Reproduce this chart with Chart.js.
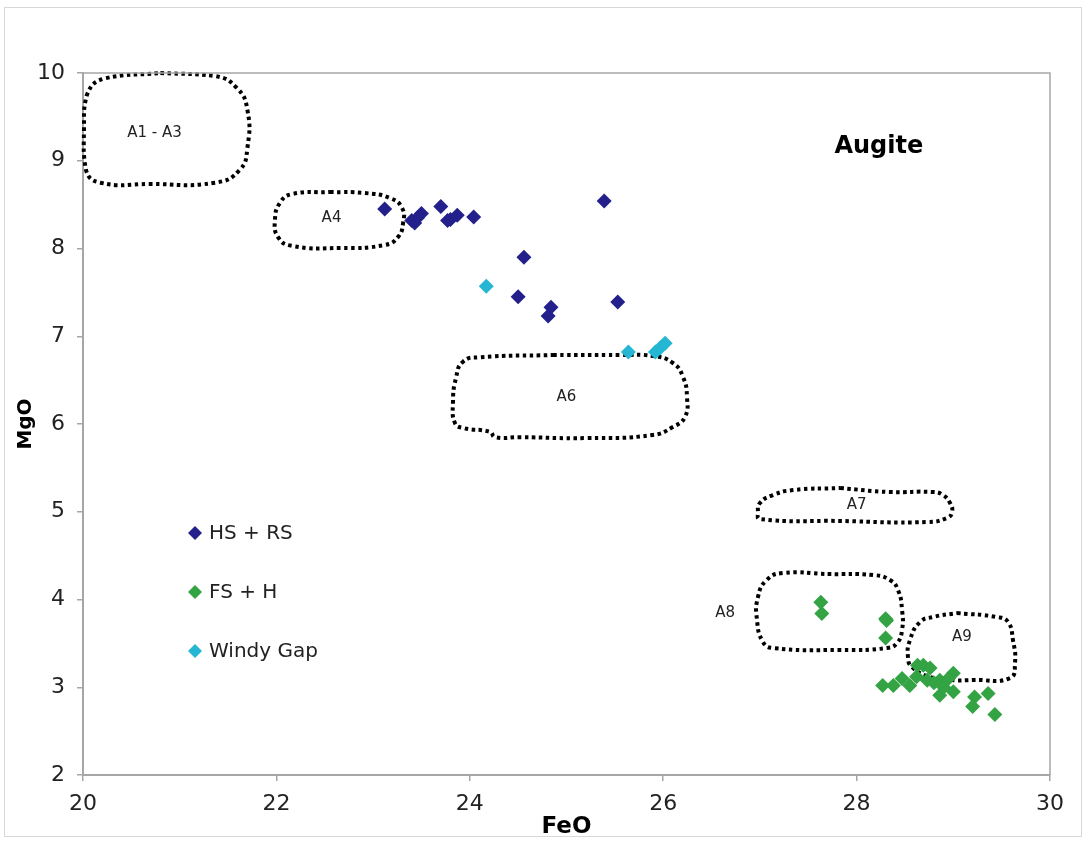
<!DOCTYPE html>
<html>
<head>
<meta charset="utf-8">
<script src="https://cdn.jsdelivr.net/npm/chart.js@4/dist/chart.umd.min.js"></script>
<style>
  html, body { margin: 0; padding: 0; background: #fff; }
  #wrap { position: relative; width: 1088px; height: 841px; }
  #frame { position: absolute; left: 4px; top: 7px; width: 1078px; height: 830px; border: 1px solid #d8d8d8; box-sizing: border-box; pointer-events: none; }
  canvas { position: absolute; left: 0; top: 0; }
</style>
</head>
<body>
<div id="wrap">
  <canvas id="c" width="1088" height="841"></canvas>
  <div id="frame"></div>
</div>
<script>
// ---- Data (FeO, MgO) ----
const seriesNames = ['HS + RS', 'FS + H', 'Windy Gap'];

const hsRsFeO = [23.12, 23.43, 23.46, 23.50, 23.40, 23.70, 23.77, 23.87, 23.80, 24.04, 25.39, 24.56, 24.50, 24.84, 24.81, 25.53];
const hsRsMgO = [8.45, 8.29, 8.35, 8.40, 8.32, 8.48, 8.32, 8.38, 8.33, 8.36, 8.54, 7.90, 7.45, 7.33, 7.23, 7.39];

const fsHFeO = [27.63, 27.64, 28.30, 28.31, 28.30, 28.27, 28.38, 28.47, 28.55, 28.62, 28.63, 28.69, 28.76, 28.73, 28.86, 29.00, 28.86, 29.00, 28.90, 29.22, 29.36, 29.20, 29.43, 28.80, 28.95];
const fsHMgO = [3.97, 3.84, 3.78, 3.76, 3.56, 3.02, 3.02, 3.10, 3.02, 3.12, 3.25, 3.25, 3.22, 3.08, 3.08, 3.16, 2.91, 2.95, 3.00, 2.89, 2.93, 2.78, 2.69, 3.05, 3.10];

const windyFeO = [24.17, 25.64, 25.92, 25.97, 26.02];
const windyMgO = [7.57, 6.82, 6.82, 6.87, 6.92];

// ---- Field outlines (FeO, MgO vertices) ----
const regionA1A3FeO = [20.80, 21.365, 21.59, 21.70, 21.70, 21.62, 21.365, 20.69, 20.18, 20.03, 20.01, 20.04, 20.23, 20.80];
const regionA1A3MgO = [10.00, 9.966, 9.83, 9.58, 9.145, 8.895, 8.75, 8.735, 8.75, 8.895, 9.35, 9.75, 9.94, 10.00];

const regionA4FeO = [22.554, 22.916, 23.175, 23.30, 23.31, 23.257, 23.12, 22.66, 22.16, 22.017, 21.985, 22.037, 22.16, 22.554];
const regionA4MgO = [8.644, 8.632, 8.575, 8.46, 8.29, 8.13, 8.04, 8.006, 8.03, 8.13, 8.325, 8.52, 8.62, 8.644];

const regionA6FeO = [24.86, 25.553, 25.895, 26.10, 26.205, 26.246, 26.225, 26.10, 25.895, 25.21, 24.52, 24.26, 24.21, 23.93, 23.847, 23.826, 23.857, 23.93, 24.105, 24.86];
const regionA6MgO = [6.786, 6.786, 6.775, 6.695, 6.536, 6.308, 6.08, 5.966, 5.875, 5.84, 5.85, 5.85, 5.91, 5.955, 6.01, 6.24, 6.524, 6.71, 6.76, 6.786];

const regionA7FeO = [27.83, 28.345, 28.79, 28.893, 28.966, 28.987, 28.935, 28.728, 27.83, 27.0, 26.98, 27.0, 27.135, 27.342, 27.83];
const regionA7MgO = [5.27, 5.225, 5.225, 5.19, 5.10, 4.997, 4.93, 4.883, 4.895, 4.917, 4.997, 5.10, 5.19, 5.247, 5.27];

const regionA8FeO = [27.70, 28.17, 28.345, 28.428, 28.47, 28.47, 28.418, 28.314, 27.828, 27.135, 27.032, 26.97, 26.98, 27.07, 27.239, 27.70];
const regionA8MgO = [4.29, 4.279, 4.222, 4.108, 3.88, 3.652, 3.504, 3.447, 3.425, 3.447, 3.516, 3.766, 4.028, 4.222, 4.302, 4.29];

const regionA9FeO = [29.038, 29.452, 29.566, 29.617, 29.638, 29.586, 29.204, 28.966, 28.759, 28.573, 28.531, 28.552, 28.656, 28.79, 29.038];
const regionA9MgO = [3.846, 3.80, 3.743, 3.538, 3.276, 3.105, 3.083, 3.083, 3.117, 3.23, 3.344, 3.538, 3.743, 3.80, 3.846];

// ---- Labels ----
const regionLabels = ['A1 - A3', 'A4', 'A6', 'A7', 'A8', 'A9'];
const regionLabelFeO = [20.74, 22.57, 25.00, 28.00, 26.64, 29.09];
const regionLabelMgO = [9.32, 8.35, 6.31, 5.07, 3.85, 3.57];
const titleText = 'Augite';
const titleFeO = 28.23, titleMgO = 9.16;

const xTicks = [20, 22, 24, 26, 28, 30];
const yTicks = [2, 3, 4, 5, 6, 7, 8, 9, 10];
const xTitle = 'FeO', yTitle = 'MgO';

const colors = ['#23208c', '#33a343', '#24b6d2'];

function pts(xs, ys) { return xs.map((x, i) => ({ x: x, y: ys[i] })); }

const pointSets = [[hsRsFeO, hsRsMgO], [fsHFeO, fsHMgO], [windyFeO, windyMgO]];
const datasets = pointSets.map((s, i) => ({
  label: seriesNames[i],
  data: pts(s[0], s[1]),
  showLine: false,
  pointStyle: 'rectRot',
  pointRadius: 7.5,
  backgroundColor: colors[i],
  borderColor: colors[i],
  borderWidth: 0,
  order: 1
}));

const regions = [
  [regionA1A3FeO, regionA1A3MgO], [regionA4FeO, regionA4MgO], [regionA6FeO, regionA6MgO],
  [regionA7FeO, regionA7MgO], [regionA8FeO, regionA8MgO], [regionA9FeO, regionA9MgO]
];
regions.forEach((r, i) => {
  datasets.push({
    label: 'region' + i,
    data: pts(r[0], r[1]),
    showLine: true,
    pointRadius: 0,
    borderColor: '#000',
    borderWidth: 4,
    borderDash: [3.5, 3.5],
    borderCapStyle: 'butt',
    tension: 0.5,
    fill: false,
    clip: false,
    order: 2
  });
});

const overlay = {
  id: 'overlay',
  afterDraw(chart) {
    const ctx = chart.ctx;
    const xs = chart.scales.x, ys = chart.scales.y;
    const a = chart.chartArea;
    ctx.save();
    // top and right frame
    ctx.strokeStyle = '#a6a6a6';
    ctx.lineWidth = 1.5;
    ctx.beginPath();
    ctx.moveTo(a.left, a.top);
    ctx.lineTo(a.right, a.top);
    ctx.lineTo(a.right, a.bottom);
    ctx.stroke();
    // region labels
    ctx.fillStyle = '#222';
    ctx.font = '15px "DejaVu Sans", sans-serif';
    ctx.textAlign = 'center';
    ctx.textBaseline = 'middle';
    regionLabels.forEach((t, i) => {
      ctx.fillText(t, xs.getPixelForValue(regionLabelFeO[i]), ys.getPixelForValue(regionLabelMgO[i]));
    });
    // title
    ctx.fillStyle = '#000';
    ctx.font = 'bold 24px "DejaVu Sans", sans-serif';
    ctx.fillText(titleText, xs.getPixelForValue(titleFeO), ys.getPixelForValue(titleMgO));
    // legend
    ctx.textAlign = 'left';
    ctx.font = '20px "DejaVu Sans", sans-serif';
    seriesNames.forEach((n, i) => {
      const cx = a.left + 112, cy = a.top + 460 + i * 59;
      ctx.fillStyle = colors[i];
      ctx.beginPath();
      ctx.moveTo(cx, cy - 7); ctx.lineTo(cx + 7, cy); ctx.lineTo(cx, cy + 7); ctx.lineTo(cx - 7, cy); ctx.closePath();
      ctx.fill();
      ctx.fillStyle = '#222';
      ctx.fillText(n, cx + 14, cy + 1);
    });
    ctx.restore();
  }
};

new Chart(document.getElementById('c'), {
  type: 'scatter',
  data: { datasets: datasets },
  options: {
    responsive: false,
    animation: false,
    events: [],
    layout: { padding: { left: 0, top: 73, right: 38, bottom: 0 } },
    plugins: { legend: { display: false }, tooltip: { enabled: false } },
    scales: {
      x: {
        type: 'linear', min: 20, max: 30,
        afterBuildTicks: s => { s.ticks = xTicks.map(v => ({ value: v })); },
        afterFit: s => { s.height = 66; },
        grid: { display: true, drawOnChartArea: false, drawTicks: true, tickLength: 6, color: '#a6a6a6', lineWidth: 1.5 },
        border: { display: true, color: '#a6a6a6', width: 2 },
        ticks: { color: '#222', font: { family: 'DejaVu Sans', size: 22 }, padding: 10, maxRotation: 0 },
        title: { display: true, text: xTitle, color: '#000', font: { family: 'DejaVu Sans', size: 23, weight: 'bold' }, padding: { top: -6, bottom: 0 } }
      },
      y: {
        type: 'linear', min: 2, max: 10,
        afterBuildTicks: s => { s.ticks = yTicks.map(v => ({ value: v })); },
        afterFit: s => { s.width = 83; },
        grid: { display: true, drawOnChartArea: false, drawTicks: true, tickLength: 6, color: '#a6a6a6', lineWidth: 1.5 },
        border: { display: true, color: '#a6a6a6', width: 2 },
        ticks: { color: '#222', font: { family: 'DejaVu Sans', size: 22 }, padding: 12 },
        title: { display: true, text: yTitle, color: '#000', font: { family: 'DejaVu Sans', size: 20, weight: 'bold' }, padding: { top: 14, bottom: 0 } }
      }
    }
  },
  plugins: [overlay]
});
</script>
</body>
</html>
